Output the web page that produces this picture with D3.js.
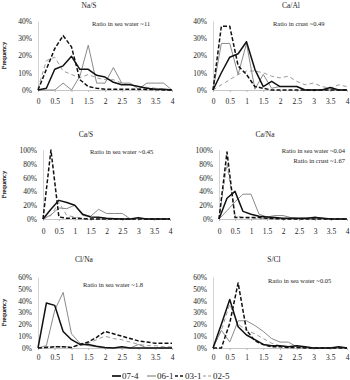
<!DOCTYPE html>
<html>
<head>
<meta charset="utf-8">
<script src="https://cdn.jsdelivr.net/npm/d3@7"></script>
<style>
  body { margin: 0; background: #fff; }
  svg { display: block; }
  text { font-family: "Liberation Serif", serif; fill: #222; }
</style>
</head>
<body>
<svg id="chart" width="350" height="380"></svg>
<script>
// bin centres shared by every panel
const bins = [0, 0.25, 0.5, 0.75, 1, 1.25, 1.5, 1.75, 2, 2.25, 2.5, 2.75, 3, 3.25, 3.5, 3.75, 4];
const xTicks = [0, 0.5, 1, 1.5, 2, 2.5, 3, 3.5, 4];
const xTickLabels = ["0", "0.5", "1", "1.5", "2", "2.5", "3", "3.5", "4"];
const sampleNames = ["07-4", "06-1", "03-1", "02-5"];

// Na/S
const naS_074 = [0, 1, 12, 14, 19.5, 12, 12, 8.5, 7.5, 4.5, 3, 3, 2, 1, 0.5, 0.5, 0];
const naS_061 = [0, 0, 0, 4, 0, 8, 26, 4, 4, 13, 4, 4, 0.5, 4, 4, 4, 0];
const naS_031 = [0, 12, 24, 31.5, 25, 6, 2, 1, 0.5, 0.5, 0.5, 0.5, 0.5, 0.3, 0.3, 0, 0];
const naS_025 = [1, 17, 19, 11, 9, 7, 9, 7, 6, 6, 4, 3, 2, 1.5, 1, 0.5, 0];
// Ca/Al
const caAl_074 = [0, 10, 19, 21, 28, 12, 2, 5, 2, 2, 2, 0, 0, 0, 1.5, 0, 0];
const caAl_061 = [0, 27, 27, 9, 27, 0.5, 9, 1, 2, 2, 2, 0, 0, 0, 0, 0, 0];
const caAl_031 = [0, 37, 37, 14, 9, 2, 1, 0, 0, 0, 0, 0, 0, 0, 0, 0, 0];
const caAl_025 = [0, 3, 6, 9, 11, 11, 10, 8, 7, 8, 5, 3, 4, 2, 1, 3, 2];
// Ca/S
const caS_074 = [0, 14, 27, 24, 20, 7, 3, 2.5, 1, 0.5, 0, 0, 2, 0, 0, 0, 0];
const caS_061 = [0, 6, 16, 15, 20, 5, 4, 14, 8, 8, 8, 0, 1, 0, 0, 0, 0];
const caS_031 = [0, 100, 3, 1, 1, 0.5, 0, 0, 0, 0, 0, 0, 0, 0, 0, 0, 0];
const caS_025 = [0, 5, 24, 5, 3, 1, 0.5, 0, 0, 0, 0, 0, 0, 0, 0, 0, 0];
// Ca/Na
const caNa_074 = [0, 30, 40, 11, 7, 4, 3, 2, 1, 1, 1, 1, 2, 1, 0, 0, 0];
const caNa_061 = [0, 12, 25, 36, 36, 7, 3, 5, 5, 2, 1, 1.5, 3, 1, 0, 0, 0];
const caNa_031 = [0, 97, 2, 2, 2, 2, 1, 0.5, 0, 0, 0, 0, 0, 0, 0, 0, 0];
const caNa_025 = [0, 80, 5, 2, 1, 1, 1, 1, 0.5, 0, 0, 0, 0, 0, 0, 0, 0];
// Cl/Na
const clNa_074 = [0, 38, 36, 14, 7, 3, 3, 1.5, 0.5, 0, 1, 0, 0, 0, 0, 0, 0];
const clNa_061 = [0, 2, 32, 47, 12, 4, 2, 1, 0, 0, 0, 0, 3, 0, 0, 0, 0];
const clNa_031 = [0, 0.5, 1, 1, 0.5, 3, 5, 9, 14, 12, 10, 8, 6, 5, 4, 4, 4];
const clNa_025 = [0, 1, 1, 1, 1, 2, 4, 7, 10, 8, 7, 5, 3, 2, 2, 1, 1];
// S/Cl
const sCl_074 = [0, 20, 41, 18, 11, 7, 3, 2, 2, 1, 2, 1, 0, 0, 0, 1, 0];
const sCl_061 = [0, 15, 5, 23, 23, 19, 14, 8, 5, 5, 1, 0.5, 0, 0, 0, 0, 0];
const sCl_031 = [0, 0, 21, 55, 15, 6, 3, 1, 1, 0.5, 0.5, 0, 0, 0, 0, 0, 0];
const sCl_025 = [0, 15, 37, 20, 15, 12, 8, 4, 2, 1, 1, 0.5, 0, 0, 0, 0, 0];

const titles = ["Na/S", "Ca/Al", "Ca/S", "Ca/Na", "Cl/Na", "S/Cl"];
const notes = [
  ["Ratio in sea water ~11"],
  ["Ratio in crust ~0.49"],
  ["Ratio in sea water ~0.45"],
  ["Ratio in sea water ~0.04", "Ratio in crust ~1.67"],
  ["Ratio in sea water ~1.8"],
  ["Ratio in sea water ~0.05"],
];
const yMax = [40, 40, 100, 100, 60, 60];
const yTicks = [
  [0, 10, 20, 30, 40],
  [0, 10, 20, 30, 40],
  [0, 20, 40, 60, 80, 100],
  [0, 20, 40, 60, 80, 100],
  [0, 10, 20, 30, 40, 50, 60],
  [0, 10, 20, 30, 40, 50, 60],
];
const seriesByPanel = [
  [naS_074, naS_061, naS_031, naS_025],
  [caAl_074, caAl_061, caAl_031, caAl_025],
  [caS_074, caS_061, caS_031, caS_025],
  [caNa_074, caNa_061, caNa_031, caNa_025],
  [clNa_074, clNa_061, clNa_031, clNa_025],
  [sCl_074, sCl_061, sCl_031, sCl_025],
];

// panel boxes: plot left/right, 0% line, top of y domain, title pos, note pos
const layout = [
  { x0: 38, x1: 172, y0: 90, y1: 21, tx: 89, ty: 5, nx: 92, ny: 26, anchor: "start", lab: 13 },
  { x0: 213, x1: 347, y0: 90, y1: 21, tx: 291, ty: 5, nx: 273, ny: 26, anchor: "start", lab: 13 },
  { x0: 43, x1: 170, y0: 219, y1: 150, tx: 86, ty: 134, nx: 90, ny: 154, anchor: "start", lab: 14 },
  { x0: 219, x1: 347, y0: 219, y1: 150, tx: 265, ty: 134, nx: 345, ny: 153, anchor: "end", lab: 14 },
  { x0: 38, x1: 172, y0: 348, y1: 277, tx: 84, ty: 259, nx: 83, ny: 287, anchor: "start", lab: 11 },
  { x0: 213, x1: 347, y0: 348, y1: 277, tx: 274, ty: 259, nx: 268, ny: 283, anchor: "start", lab: 11 },
];

const styles = [
  { stroke: "#111", width: 1.5, dash: null },
  { stroke: "#8a8a8a", width: 1, dash: null },
  { stroke: "#111", width: 1.5, dash: "4,2" },
  { stroke: "#9a9a9a", width: 1, dash: "4,3" },
];

const svg = d3.select("#chart");
svg.append("rect").attr("width", 350).attr("height", 380).attr("fill", "#fff");

layout.forEach((p, i) => {
  const x = d3.scaleLinear().domain([0, 4]).range([p.x0, p.x1]);
  const y = d3.scaleLinear().domain([0, yMax[i]]).range([p.y0, p.y1]);
  const g = svg.append("g");

  // title
  g.append("text")
    .attr("x", p.tx)
    .attr("y", p.ty)
    .attr("dy", "0.35em")
    .attr("text-anchor", "middle")
    .style("font-size", "7.5px")
    .text(titles[i]);

  // y axis
  const yAxis = g.append("g")
    .attr("transform", `translate(${p.x0},0)`)
    .call(d3.axisLeft(y).tickValues(yTicks[i]).tickSize(0).tickPadding(6).tickFormat((d) => d + "%"));
  yAxis.select(".domain").attr("stroke", "#c8c8c8").attr("stroke-width", 0.8);
  yAxis.selectAll("text")
    .style("font-size", "7.5px")
    .style("font-family", "Liberation Serif, serif")
    .attr("fill", "#222");

  // x axis
  const xAxis = g.append("g")
    .attr("transform", `translate(0,${p.y0})`)
    .call(d3.axisBottom(x).tickValues(xTicks).tickSize(2).tickPadding(p.lab - 6)
      .tickFormat((d, k) => xTickLabels[k]));
  xAxis.select(".domain").attr("stroke", "#b8b8b8").attr("stroke-width", 0.8);
  xAxis.selectAll(".tick line").attr("stroke", "#b8b8b8");
  xAxis.selectAll("text")
    .style("font-size", "7.5px")
    .style("font-family", "Liberation Serif, serif")
    .attr("fill", "#222");

  // Frequency label
  g.append("text")
    .attr("transform", `translate(6,${(p.y0 + p.y1) / 2}) rotate(-90)`)
    .attr("text-anchor", "middle")
    .style("font-size", "6.5px")
    .text("Frequency");

  // notes
  notes[i].forEach((t, k) => {
    g.append("text")
      .attr("x", p.nx)
      .attr("y", p.ny + k * 10)
      .attr("text-anchor", p.anchor)
      .style("font-size", "6.5px")
      .text(t);
  });

  // series, grey ones first so black sits on top
  const line = d3.line().x((d, k) => x(bins[k])).y((d) => y(d));
  [3, 1, 2, 0].forEach((s) => {
    g.append("path")
      .datum(seriesByPanel[i][s])
      .attr("d", line)
      .attr("fill", "none")
      .attr("stroke", styles[s].stroke)
      .attr("stroke-width", styles[s].width)
      .attr("stroke-dasharray", styles[s].dash)
      .attr("stroke-linejoin", "round");
  });
});

// legend
const legend = svg.append("g").attr("transform", "translate(112,376)");
const legendX = [0, 35, 63, 91];
sampleNames.forEach((name, s) => {
  const item = legend.append("g").attr("transform", `translate(${legendX[s]},0)`);
  item.append("line")
    .attr("x1", 0).attr("x2", 9)
    .attr("y1", 0).attr("y2", 0)
    .attr("stroke", styles[s].stroke)
    .attr("stroke-width", styles[s].width + 0.2)
    .attr("stroke-dasharray", styles[s].dash ? "3,2" : null);
  item.append("text")
    .attr("x", 10)
    .attr("y", 0)
    .attr("dy", "0.35em")
    .style("font-size", "9px")
    .text(name);
});
</script>
</body>
</html>
